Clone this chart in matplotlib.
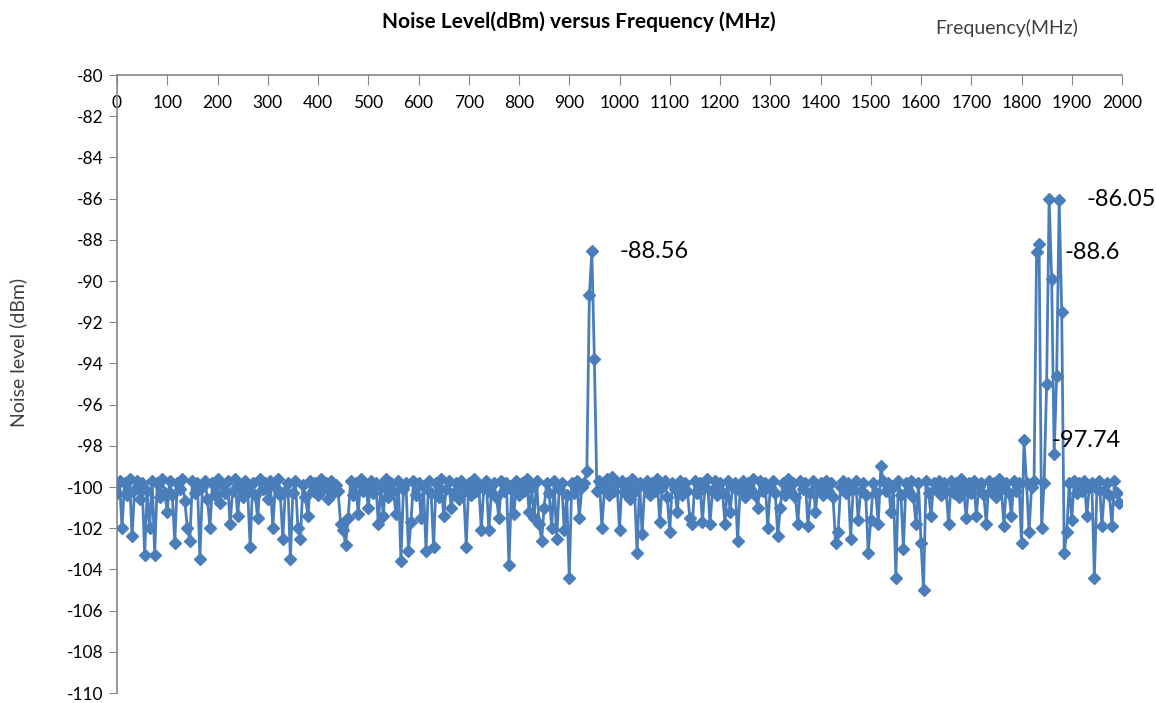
import numpy as np
import matplotlib
matplotlib.use("Agg")
import matplotlib.pyplot as plt

plt.rcParams['font.family'] = ['Lato', 'DejaVu Sans']
plt.rcParams['axes.unicode_minus'] = False

# sweep 0..1995 MHz, 5 MHz step
freq = np.arange(0, 2000, 5)

# noise level (dBm), one row per 100 MHz
level = [
    -100.3, -99.7, -102.0, -99.8, -100.4, -99.6, -102.4, -100.1, -99.7, -100.6, -99.8, -103.3, -100.2, -102.0, -99.7, -103.3, -99.8, -100.5, -99.6, -100.3,
    -101.2, -99.7, -100.4, -102.7, -99.8, -100.1, -99.6, -100.7, -102.0, -102.6, -99.7, -100.3, -99.8, -103.5, -100.0, -99.7, -100.6, -102.0, -99.8, -100.4,
    -99.6, -100.8, -99.9, -100.3, -99.7, -101.8, -100.2, -99.6, -101.4, -99.9, -100.5, -99.7, -100.2, -102.9, -99.8, -100.4, -101.5, -99.6, -100.1, -99.8,
    -100.6, -99.7, -102.0, -100.0, -99.6, -100.4, -102.5, -100.2, -99.8, -103.5, -100.3, -99.7, -102.0, -102.5, -99.9, -100.5, -101.4, -99.7, -100.2, -99.8,
    -100.4, -99.6, -100.1, -99.8, -100.6, -99.7, -100.3, -99.9, -100.2, -101.8, -102.1, -102.8, -101.5, -99.7, -100.4, -99.8, -101.3, -99.6, -100.2, -99.9,
    -101.0, -99.7, -100.3, -99.8, -101.8, -100.0, -101.4, -99.6, -100.5, -99.8, -100.2, -101.3, -99.7, -103.6, -100.1, -99.8, -103.1, -101.7, -99.7, -100.4,
    -99.8, -101.5, -100.0, -103.1, -99.7, -100.3, -102.9, -99.8, -100.5, -99.6, -101.4, -100.1, -99.7, -101.0, -100.3, -99.8, -100.6, -99.7, -100.2, -102.9,
    -99.8, -100.4, -99.6, -100.2, -99.9, -102.1, -100.0, -99.7, -102.1, -100.3, -99.8, -100.5, -101.5, -99.7, -100.2, -99.8, -103.8, -100.1, -101.3, -99.7,
    -100.4, -99.8, -100.2, -99.6, -101.2, -100.0, -101.5, -99.7, -101.8, -102.6, -101.0, -99.8, -100.3, -102.0, -99.7, -102.5, -100.1, -99.8, -102.1, -100.4,
    -104.4, -99.8, -100.3, -99.7, -101.5, -100.0, -99.8, -99.2, -90.7, -88.56, -93.8, -100.2, -99.7, -102.0, -100.1, -99.6, -100.4, -99.5, -100.2, -99.8,
    -102.1, -99.7, -100.3, -99.8, -100.6, -99.6, -100.2, -103.2, -99.8, -102.3, -100.0, -99.7, -100.4, -99.8, -100.2, -99.6, -101.7, -100.0, -99.7, -100.5,
    -102.2, -99.8, -100.1, -101.2, -99.7, -100.4, -99.8, -100.2, -101.5, -101.8, -99.7, -100.3, -99.8, -101.7, -100.0, -99.6, -101.8, -100.2, -99.7, -100.4,
    -99.8, -100.3, -101.8, -99.7, -101.2, -100.0, -99.8, -102.6, -100.2, -99.7, -100.5, -99.8, -100.1, -99.6, -100.4, -101.0, -99.7, -100.2, -99.8, -102.0,
    -100.0, -99.7, -100.3, -102.4, -101.0, -99.8, -100.4, -99.6, -100.2, -99.8, -100.5, -101.8, -99.7, -100.1, -99.8, -101.9, -100.3, -99.7, -101.2, -100.0,
    -99.8, -100.4, -99.7, -100.2, -99.8, -100.5, -102.7, -102.2, -100.0, -99.7, -100.3, -99.8, -102.5, -100.1, -99.7, -101.6, -100.2, -99.8, -100.4, -103.2,
    -101.6, -99.8, -100.3, -101.8, -99.0, -99.7, -100.2, -99.8, -101.2, -100.0, -104.4, -99.7, -100.4, -103.0, -99.8, -100.2, -99.7, -100.5, -101.8, -99.8,
    -102.7, -105.0, -99.7, -100.3, -101.4, -99.8, -100.1, -99.7, -100.4, -99.8, -100.2, -101.8, -99.7, -100.3, -99.8, -100.5, -99.6, -100.2, -101.5, -99.8,
    -100.3, -99.7, -101.4, -100.0, -99.8, -100.4, -101.8, -99.7, -100.2, -99.8, -100.5, -99.6, -100.1, -101.9, -99.8, -100.3, -101.4, -99.7, -100.2, -99.8,
    -102.7, -97.74, -99.8, -102.2, -100.0, -99.7, -88.6, -88.2, -102.0, -99.8, -95.0, -86.0, -89.9, -98.4, -94.6, -86.05, -91.5, -103.2, -102.2, -99.8,
    -101.6, -99.7, -100.3, -99.8, -100.2, -99.7, -101.4, -100.0, -99.8, -104.4, -100.1, -99.7, -101.9, -100.2, -99.8, -100.4, -101.9, -99.7, -100.3, -100.8,
]

# labelled points: (freq, value, text)
labelled = [(945, -88.56, "-88.56"), (1875, -86.05, "-86.05"),
            (1830, -88.6, "-88.6"), (1805, -97.74, "-97.74")]

blue = "#4A7EBB"
axis_gray = "#868686"

fig = plt.figure(figsize=(11.56, 7.03), dpi=100)
ax = fig.add_axes([117 / 1156, 1 - 693 / 703, 1005 / 1156, 618 / 703])

ax.plot(freq, level, color=blue, lw=2.0, marker='D', ms=6.5,
        mfc=blue, mec=blue, zorder=3)

for f, v, t in labelled:
    ax.annotate(t, (f, v), xytext=(20, 0), textcoords='offset points',
                ha='left', va='center', fontsize=17, color='black')

ax.set_xlim(0, 2000)
ax.set_ylim(-110, -80)
ax.set_xticks(np.arange(0, 2001, 100))
ax.set_yticks(np.arange(-110, -79, 2))

for s in ['right', 'bottom']:
    ax.spines[s].set_visible(False)
for s in ['left', 'top']:
    ax.spines[s].set_color(axis_gray)
    ax.spines[s].set_linewidth(1.2)

ax.tick_params(axis='x', top=True, bottom=False, labeltop=True, labelbottom=False,
               direction='in', length=7, color=axis_gray, pad=-26, labelsize=12.5)
ax.tick_params(axis='y', direction='out', length=6, color=axis_gray, labelsize=12.5)

fig.text(579 / 1156, 1 - 22 / 703, "Noise Level(dBm) versus Frequency (MHz)",
         ha='center', va='center', fontsize=15, fontweight='bold')
fig.text(1007 / 1156, 1 - 28 / 703, "Frequency(MHz)", ha='center', va='center',
         fontsize=14, color='#404040')
fig.text(18 / 1156, 1 - 352 / 703, "Noise level (dBm)", ha='center', va='center',
         rotation=90, fontsize=14, color='#404040')

fig.savefig("out.png", dpi=100)
